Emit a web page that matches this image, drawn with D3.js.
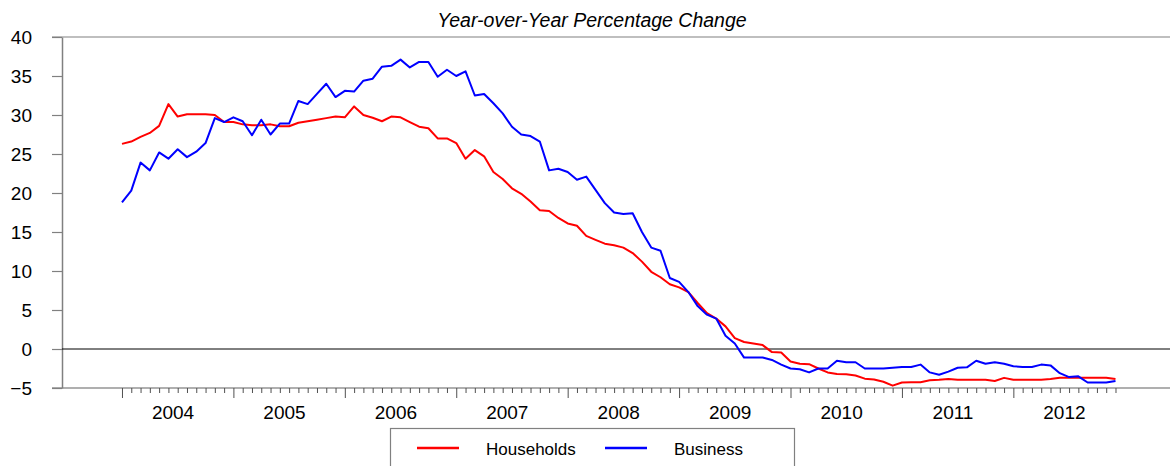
<!DOCTYPE html>
<html>
<head>
<meta charset="utf-8">
<script src="https://cdn.jsdelivr.net/npm/d3@7"></script>
<style>
  html, body { margin: 0; padding: 0; background: #fff; }
  svg { display: block; font-family: "Liberation Sans", Arial, sans-serif; }
</style>
</head>
<body>
<svg id="chart" width="1171" height="466"></svg>
<script>
// ---- data (monthly, Jan 2004 .. Dec 2012) ----
const startYear = 2004;
const yearLabels = ["2004","2005","2006","2007","2008","2009","2010","2011","2012"];
const yTicks = [-5, 0, 5, 10, 15, 20, 25, 30, 35, 40];
const seriesNames = ["Households", "Business"];
const seriesColors = ["#ff0000", "#0000ff"];

const households = [
  26.3, 26.6, 27.2, 27.7, 28.6, 31.4, 29.8, 30.1, 30.1, 30.1, 30.0, 29.1,
  29.1, 28.8, 28.7, 28.7, 28.8, 28.55, 28.55, 29.0, 29.2, 29.4, 29.6, 29.8,
  29.7, 31.1, 30.0, 29.65, 29.2, 29.8, 29.7, 29.1, 28.5, 28.3, 27.0, 27.0,
  26.4, 24.4, 25.5, 24.7, 22.7, 21.8, 20.6, 19.9, 18.9, 17.8, 17.7, 16.8,
  16.1, 15.8, 14.5, 14.0, 13.5, 13.3, 13.0, 12.3, 11.2, 9.9, 9.2, 8.3,
  7.9, 7.3, 5.9, 4.6, 3.9, 2.9, 1.4, 0.9, 0.7, 0.5, -0.4, -0.45,
  -1.6, -1.9, -1.95, -2.5, -3.0, -3.2, -3.25, -3.4, -3.8, -3.9, -4.2, -4.7,
  -4.3, -4.25, -4.25, -4.0, -3.95, -3.85, -3.95, -3.95, -3.95, -3.95, -4.1, -3.7,
  -3.95, -3.95, -3.95, -3.95, -3.85, -3.7, -3.7, -3.7, -3.7, -3.7, -3.7, -3.85
];
const business = [
  18.8, 20.3, 23.9, 22.9, 25.2, 24.4, 25.6, 24.6, 25.3, 26.4, 29.6, 29.1,
  29.7, 29.2, 27.4, 29.4, 27.5, 28.9, 28.9, 31.8, 31.4, 32.7, 34.0, 32.3,
  33.1, 33.0, 34.4, 34.65, 36.2, 36.3, 37.1, 36.1, 36.8, 36.8, 34.9, 35.8,
  35.0, 35.6, 32.5, 32.7, 31.5, 30.2, 28.5, 27.5, 27.3, 26.6, 22.9, 23.1,
  22.7, 21.7, 22.1, 20.4, 18.7, 17.5, 17.3, 17.4, 15.0, 13.0, 12.6, 9.1,
  8.6, 7.3, 5.5, 4.4, 3.9, 1.7, 0.7, -1.1, -1.1, -1.1, -1.4, -2.0,
  -2.5, -2.6, -3.0, -2.5, -2.5, -1.5, -1.7, -1.7, -2.5, -2.5, -2.5, -2.4,
  -2.3, -2.3, -2.0, -3.0, -3.3, -2.9, -2.4, -2.35, -1.5, -1.9, -1.7, -1.9,
  -2.2, -2.3, -2.3, -2.0, -2.1, -3.1, -3.6, -3.5, -4.3, -4.3, -4.3, -4.1
];
const series = [households, business];

// ---- layout ----
const svg = d3.select("#chart");
const plotLeft = 62, plotRight = 1170, plotTop = 37, plotBottom = 388;

const x = d3.scaleLinear().domain([-6.46, 112.87]).range([plotLeft, plotRight]);
const y = d3.scaleLinear().domain([-5, 40]).range([plotBottom, plotTop]);

// title
svg.append("text")
  .attr("x", 592).attr("y", 26.5)
  .attr("text-anchor", "middle")
  .attr("font-size", 19.5).attr("font-style", "italic")
  .attr("fill", "#000")
  .text("Year-over-Year Percentage Change");

// frame lines (top and bottom, extending from tick start)
svg.append("line").attr("x1", plotLeft - 10).attr("x2", plotRight)
  .attr("y1", y(40)).attr("y2", y(40)).attr("stroke", "#808080").attr("stroke-width", 1.2);
svg.append("line").attr("x1", plotLeft - 10).attr("x2", plotRight)
  .attr("y1", y(-5)).attr("y2", y(-5)).attr("stroke", "#606060").attr("stroke-width", 1.2);

// y axis
const yAxis = svg.append("g")
  .attr("transform", `translate(${plotLeft},0)`)
  .call(d3.axisLeft(y).tickValues(yTicks).tickSizeInner(10).tickSizeOuter(0).tickPadding(20).tickFormat(d3.format("d")));
yAxis.select(".domain").attr("stroke", "#808080").attr("stroke-width", 1.5);
yAxis.selectAll(".tick line").attr("stroke", "#808080").attr("stroke-width", 1.2);
yAxis.selectAll(".tick text").attr("font-size", 19).attr("fill", "#000")
  .attr("font-family", "'Liberation Sans', Arial, sans-serif");

// zero line
svg.append("line").attr("x1", plotLeft).attr("x2", plotRight)
  .attr("y1", y(0)).attr("y2", y(0)).attr("stroke", "#000").attr("stroke-width", 1);

// x axis: monthly ticks, longer at January
const months = d3.range(households.length);
const xAxis = svg.append("g")
  .attr("transform", `translate(0,${plotBottom})`)
  .call(d3.axisBottom(x).tickValues(months).tickSizeOuter(0).tickSizeInner(5).tickFormat(""));
xAxis.select(".domain").remove();
xAxis.selectAll(".tick line")
  .attr("stroke", "#505050").attr("stroke-width", 1)
  .attr("y2", d => d % 12 === 0 ? 10 : 5);

// year labels centered in each year
svg.append("g").selectAll("text")
  .data(yearLabels)
  .join("text")
  .attr("x", (d, i) => x(i * 12 + 5.5))
  .attr("y", 419)
  .attr("text-anchor", "middle")
  .attr("font-size", 19).attr("fill", "#000")
  .text(d => d);

// series lines
const line = d3.line().x((d, i) => x(i)).y(d => y(d));
svg.append("g").selectAll("path")
  .data(series)
  .join("path")
  .attr("d", d => line(d))
  .attr("fill", "none")
  .attr("stroke", (d, i) => seriesColors[i])
  .attr("stroke-width", 2)
  .attr("stroke-linejoin", "round");

// legend
const lg = svg.append("g");
lg.append("rect").attr("x", 390.5).attr("y", 428.5).attr("width", 404).attr("height", 60)
  .attr("fill", "#fff").attr("stroke", "#808080").attr("stroke-width", 1.2);
const legendX = [417, 605];
seriesNames.forEach((name, i) => {
  lg.append("line").attr("x1", legendX[i]).attr("x2", legendX[i] + 42)
    .attr("y1", 448).attr("y2", 448)
    .attr("stroke", seriesColors[i]).attr("stroke-width", 2.5);
  lg.append("text").attr("x", legendX[i] + 69).attr("y", 454.5)
    .attr("font-size", 17).attr("fill", "#000").text(name);
});
</script>
</body>
</html>
